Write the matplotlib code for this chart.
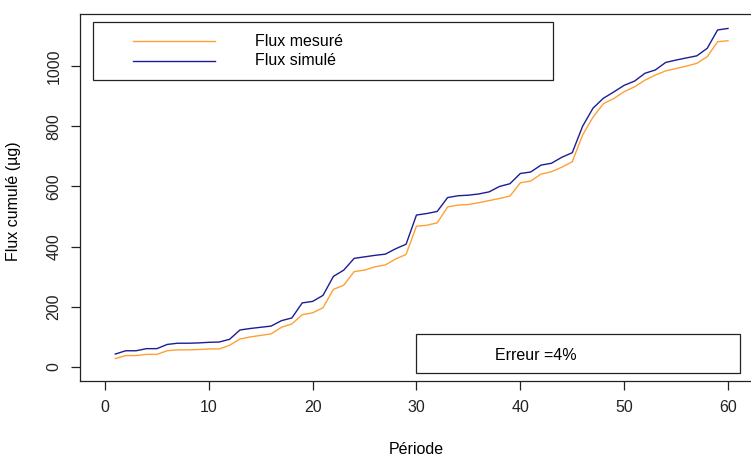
from matplotlib import pyplot as plt
from matplotlib.patches import Rectangle
from matplotlib.lines import Line2D
import numpy as np

plt.rcParams['font.family'] = ['Liberation Sans', 'DejaVu Sans']

#%%
periode = np.arange(1, 61)

flux_mesure = [28, 38, 38, 42, 42, 54, 57, 57, 58, 60,
               60, 72, 93, 100, 105, 110, 132, 143, 174, 180,
               197, 258, 272, 317, 322, 333, 339, 359, 374, 468,
               471, 479, 532, 538, 540, 546, 553, 560, 568, 612,
               618, 641, 649, 664, 682, 771, 830, 875, 892, 915,
               931, 953, 970, 984, 992, 1000, 1009, 1031, 1081, 1084]

flux_simule = [43, 54, 54, 61, 61, 75, 79, 79, 80, 82,
               83, 92, 123, 128, 132, 136, 154, 163, 213, 218,
               238, 301, 322, 361, 366, 371, 375, 393, 408, 505,
               510, 517, 563, 569, 571, 575, 582, 600, 609, 643,
               648, 671, 677, 697, 712, 800, 860, 893, 914, 936,
               950, 976, 987, 1012, 1020, 1027, 1034, 1059, 1120, 1125]

legende = ['Flux mesuré', 'Flux simulé']
couleurs = ['#FFA033', '#1C1C94']
erreur = 'Erreur =4%'

#%%
W, H = 751, 457
fig = plt.figure(figsize=(W/100, H/100), dpi=100)
# la boite depasse a droite, comme dans l'original
ax = fig.add_axes([80/W, 1-381/H, (755-80)/W, (381-14)/H])

ax.plot(periode, flux_mesure, color=couleurs[0], lw=1)
ax.plot(periode, flux_simule, color=couleurs[1], lw=1)

ax.set_xlim(-2.4, 62.6)
ax.set_ylim(-46.5, 1173)
ax.set_xticks(np.arange(0, 61, 10))
ax.set_yticks(np.arange(0, 1001, 200))
ax.tick_params(labelsize=11.5, length=6.5, width=0.9, pad=7, colors='#222222')
for lab in ax.get_yticklabels():
    lab.set_rotation(90)
    lab.set_va('center')
for s in ax.spines.values():
    s.set_linewidth(0.9)
    s.set_color('#222222')

fig.text(416/W, 1-449/H, 'Période', ha='center', va='center', fontsize=11.5)
fig.text(14/W, 1-(367-0.301*550)/H, 'Flux cumulé (µg)', ha='center', va='center',
         rotation=90, fontsize=11.5)

# legende
tf = fig.transFigure
fig.patches.append(Rectangle((93/W, 1-80/H), (553-93)/W, (80-21.7)/H,
                             transform=tf, fill=False, ec='#222222', lw=0.9))
for i, y in enumerate([41, 60.7]):
    fig.lines.append(Line2D([133/W, 215/W], [1-y/H, 1-y/H], transform=tf,
                            color=couleurs[i], lw=1))
    fig.text(255/W, 1-y/H, legende[i], ha='left', va='center', fontsize=11.5)

# erreur
fig.patches.append(Rectangle((416/W, 1-372.7/H), (740-416)/W, (372.7-334)/H,
                             transform=tf, fill=False, ec='#222222', lw=0.9))
fig.text(536/W, 1-356/H, erreur, ha='center', va='center', fontsize=11.5)

plt.savefig('out.png', dpi=100)
